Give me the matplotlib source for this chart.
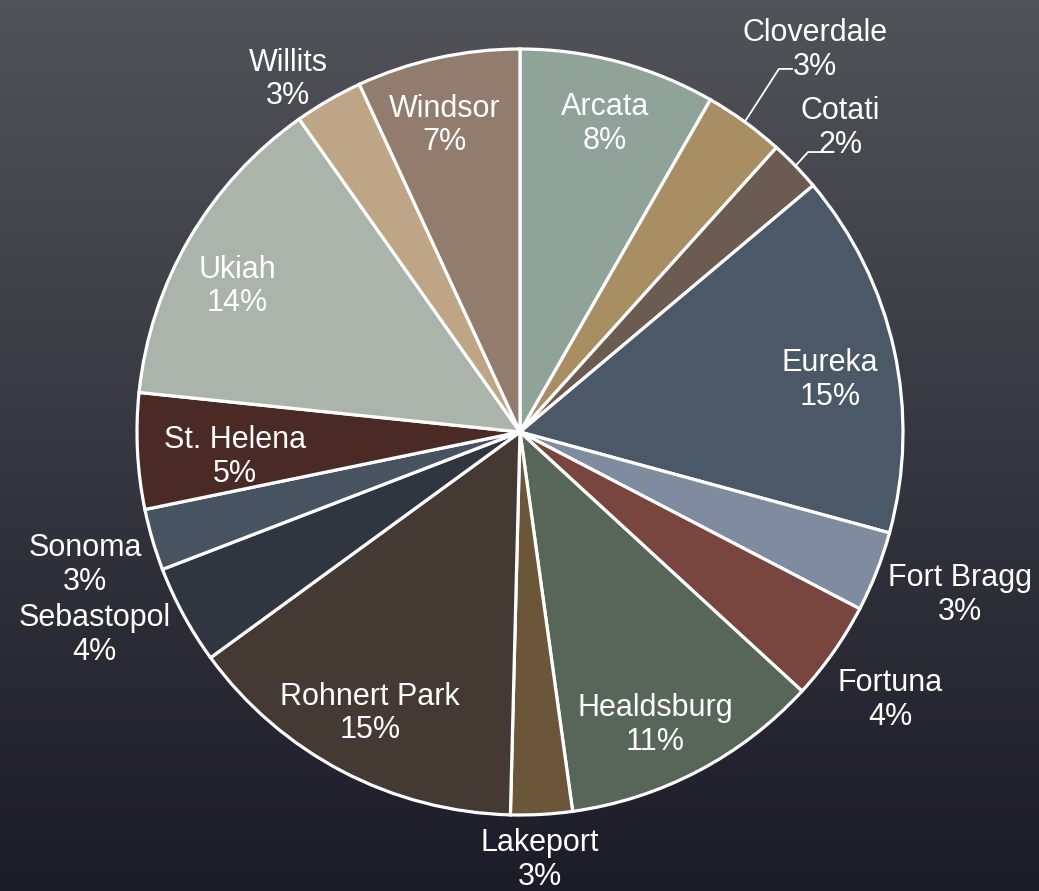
import numpy as np
import matplotlib
matplotlib.use("Agg")
import matplotlib.pyplot as plt
from matplotlib.colors import LinearSegmentedColormap

plt.rcParams['font.family'] = ['Liberation Sans', 'DejaVu Sans']

# Share of total by city (percent)
cities = ["Arcata", "Cloverdale", "Cotati", "Eureka", "Fort Bragg", "Fortuna",
          "Healdsburg", "Lakeport", "Rohnert Park", "Sebastopol", "Sonoma",
          "St. Helena", "Ukiah", "Willits", "Windsor"]
shares = [8.3, 3.4, 2.2, 15.4, 3.4, 4.2, 11.0, 2.6, 14.6, 4.2, 2.6,
          4.9, 13.6, 2.9, 6.9]

colors = ["#8fa398", "#a98d63", "#6b5b51", "#4a5868", "#7f8c9f", "#78463e",
          "#58665a", "#6b5639", "#453a33", "#2f3640", "#485362",
          "#4b2a25", "#aab4ab", "#bea585", "#917c6e"]

# Label block centres (axes data units, pie radius = 1)
label_pos = {
    "Arcata": (0.222, 0.804), "Cloverdale": (0.770, 0.997), "Cotati": (0.836, 0.794),
    "Eureka": (0.810, 0.136), "Fort Bragg": (1.149, -0.425), "Fortuna": (0.966, -0.700),
    "Healdsburg": (0.352, -0.765), "Lakeport": (0.052, -1.117),
    "Rohnert Park": (-0.392, -0.735), "Sebastopol": (-1.110, -0.530),
    "Sonoma": (-1.136, -0.347), "St. Helena": (-0.744, -0.065),
    "Ukiah": (-0.737, 0.380), "Willits": (-0.606, 0.920), "Windsor": (-0.196, 0.800),
}
# Leader lines: elbow and end points for labels placed outside the pie
leaders = {
    "Cloverdale": [(0.676, 0.948), (0.710, 0.948)],
    "Cotati": [(0.752, 0.731), (0.789, 0.731)],
}

W, H, DPI = 1039, 891, 100
fig = plt.figure(figsize=(W / DPI, H / DPI), dpi=DPI)

# Background gradient
bg = fig.add_axes([0, 0, 1, 1], zorder=0)
bg.axis("off")
cmap = LinearSegmentedColormap.from_list("bg", ["#525359", "#1c1b28"])
grad = np.linspace(0, 1, 256).reshape(-1, 1)
bg.imshow(grad, aspect="auto", cmap=cmap, extent=[0, 1, 0, 1])
bg.set_xlim(0, 1)
bg.set_ylim(0, 1)

ax = fig.add_axes([0, 0, 1, 1], zorder=1)
ax.patch.set_alpha(0)
ax.axis("off")
cx, cy, R = 520, 432, 383

wedges, _ = ax.pie(shares, colors=colors, startangle=90, counterclock=False,
                   radius=1.0, center=(0, 0), normalize=True,
                   wedgeprops=dict(edgecolor="white", linewidth=2.3))
ax.set_xlim(-cx / R, (W - cx) / R)
ax.set_ylim(-(H - cy) / R, cy / R)

total = sum(shares)
for w, name, v in zip(wedges, cities, shares):
    pct = int(round(v / total * 100))
    x, y = label_pos[name]
    ax.text(x, y, f"{name}\n{pct}%", ha="center", va="center", fontsize=22,
            color="white", linespacing=1.15)
    if name in leaders:
        mid = np.deg2rad((w.theta1 + w.theta2) / 2)
        pts = [(np.cos(mid), np.sin(mid))] + leaders[name]
        xs, ys = zip(*pts)
        ax.plot(xs, ys, color="white", lw=1.3)

fig.savefig("out.png", dpi=DPI)
